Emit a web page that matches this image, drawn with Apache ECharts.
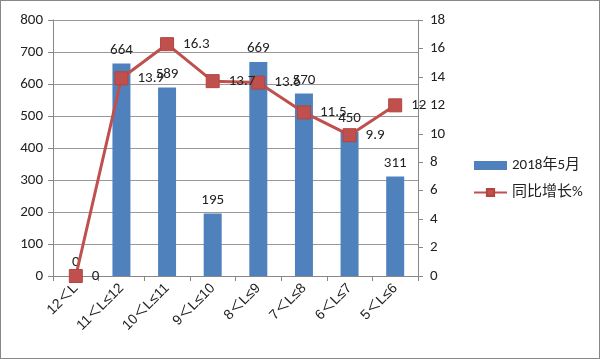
<!DOCTYPE html>
<html><head><meta charset="utf-8">
<script src="https://cdn.jsdelivr.net/npm/echarts@6/dist/echarts.min.js"></script>
<style>html,body{margin:0;padding:0;background:#fff}#c{width:600px;height:359px;box-sizing:border-box;border:1px solid #888}</style>
</head><body><div id="c"></div>
<script>
const categories = ['12＜L','11＜L≤12','10＜L≤11','9＜L≤10','8＜L≤9','7＜L≤8','6＜L≤7','5＜L≤6'];
const sales = [0, 664, 589, 195, 669, 570, 450, 311];
const growth = [0, 13.9, 16.3, 13.7, 13.6, 11.5, 9.9, 12];
const seriesNames = ['2018年5月', '同比增长%'];
const font = 'Calibri, "Liberation Sans", "Noto Sans CJK SC", sans-serif';
const chart = echarts.init(document.getElementById('c'));
chart.setOption({
  animation: false,
  textStyle: {fontFamily: font},
  grid: {left: 52, right: 181, top: 19, bottom: 82},
  legend: {
    orient: 'vertical', left: 467, top: 152, itemGap: 12,
    itemWidth: 33, itemHeight: 9,
    textStyle: {fontSize: 15, color: '#222', fontFamily: font},
    data: [{name: seriesNames[0], icon: 'rect'}, {name: seriesNames[1]}]
  },
  xAxis: {
    type: 'category', data: categories,
    axisLine: {lineStyle: {color: '#888'}},
    axisTick: {show: true, length: 5, lineStyle: {color: '#888'}},
    axisLabel: {rotate: 45, fontSize: 14, color: '#222', margin: 10, interval: 0,
      fontFamily: '"Liberation Sans", "Noto Sans CJK SC", sans-serif'}
  },
  yAxis: [{
    type: 'value', min: 0, max: 800, interval: 100,
    axisLine: {show: true, lineStyle: {color: '#888'}},
    axisTick: {show: true, length: 5, lineStyle: {color: '#888'}},
    axisLabel: {fontSize: 15, color: '#222', margin: 10},
    splitLine: {lineStyle: {color: '#999'}}
  }, {
    type: 'value', min: 0, max: 18, interval: 2,
    axisLine: {show: true, lineStyle: {color: '#888'}},
    axisTick: {show: true, length: 5, lineStyle: {color: '#888'}},
    axisLabel: {fontSize: 15, color: '#222', margin: 12},
    splitLine: {show: false}
  }],
  series: [{
    name: seriesNames[0], type: 'bar', data: sales, barWidth: 18,
    itemStyle: {color: '#4F81BD'},
    label: {show: true, position: 'top', fontSize: 15, color: '#222', distance: 6}
  }, {
    name: seriesNames[1], type: 'line', yAxisIndex: 1, data: growth,
    symbol: 'rect', symbolSize: 13,
    lineStyle: {color: '#C0504D', width: 3},
    itemStyle: {color: '#C0504D', borderColor: '#B5443F', borderWidth: 1},
    label: {show: true, position: 'right', fontSize: 15, color: '#222', distance: 9}
  }]
});
</script></body></html>
